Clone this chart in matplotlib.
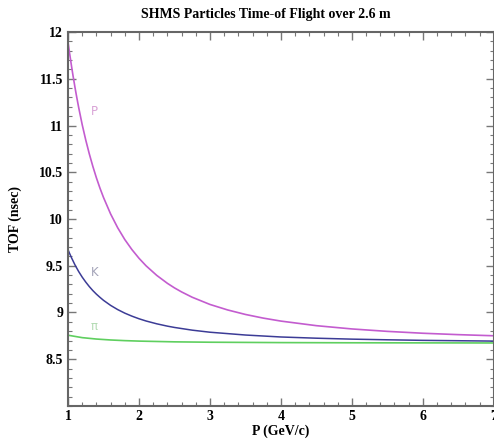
import matplotlib
matplotlib.use("Agg")
import matplotlib.pyplot as plt
from matplotlib.ticker import MultipleLocator

# Momentum samples (GeV/c) and read-off TOF values (nsec)
p_proton = [1.0, 1.02, 1.05, 1.07, 1.1, 1.12, 1.15, 1.2, 1.25, 1.3, 1.35, 1.4, 1.45, 1.5,
            1.6, 1.7, 1.8, 1.9, 2.0, 2.1, 2.25, 2.4, 2.5, 2.6, 2.75, 3.0, 3.25, 3.5,
            3.75, 4.0, 4.5, 5.0, 5.5, 6.0, 6.5, 7.0]
tof_proton = [11.893, 11.784, 11.631, 11.535, 11.399, 11.314, 11.193, 11.008, 10.844,
              10.696, 10.562, 10.440, 10.330, 10.230, 10.054, 9.906, 9.780, 9.673,
              9.580, 9.499, 9.397, 9.312, 9.263, 9.220, 9.163, 9.086, 9.027, 8.979,
              8.940, 8.908, 8.859, 8.824, 8.798, 8.778, 8.763, 8.751]

p_kaon = [1.0, 1.02, 1.05, 1.1, 1.15, 1.2, 1.25, 1.3, 1.35, 1.4, 1.45, 1.5, 1.6, 1.7,
          1.8, 1.9, 2.0, 2.1, 2.25, 2.4, 2.5, 2.75, 3.0, 3.5, 4.0, 4.5, 5.0, 5.5,
          6.0, 6.5, 7.0]
tof_kaon = [9.672, 9.635, 9.584, 9.506, 9.438, 9.378, 9.325, 9.277, 9.234, 9.196,
            9.162, 9.130, 9.076, 9.031, 8.993, 8.961, 8.933, 8.909, 8.879, 8.854,
            8.840, 8.811, 8.789, 8.759, 8.738, 8.725, 8.715, 8.708, 8.702, 8.698,
            8.694]

p_pion = [1.0, 1.2, 1.4, 1.6, 1.8, 2.0, 2.5, 3.0, 3.5, 4.0, 5.0, 6.0, 7.0]
tof_pion = [8.757, 8.731, 8.716, 8.706, 8.699, 8.694, 8.686, 8.682, 8.680, 8.678,
            8.676, 8.675, 8.674]

curve_labels = ["P", "K", "\u03c0"]

serif = ["Liberation Serif", "DejaVu Serif"]

fig = plt.figure(figsize=(4.94, 4.41), dpi=100)
ax = fig.add_axes([0.1377, 0.0794, 0.862, 0.848])

ax.plot(p_proton, tof_proton, color="#c35ccf", lw=1.2)
ax.plot(p_kaon, tof_kaon, color="#3c3c96", lw=1.1)
ax.plot(p_pion, tof_pion, color="#5fcf5f", lw=1.2)

ax.text(1.37, 11.15, curve_labels[0], color="#d9a3d6", fontsize=8.5, ha="center", va="center")
ax.text(1.37, 9.43, curve_labels[1], color="#a3a3b8", fontsize=8.5, ha="center", va="center")
ax.text(1.37, 8.85, curve_labels[2], color="#b3dbb3", fontsize=8.5, ha="center", va="center")

ax.set_xlim(1, 7)
ax.set_ylim(8, 12)
ax.xaxis.set_major_locator(MultipleLocator(1))
ax.xaxis.set_minor_locator(MultipleLocator(0.2))
ax.yaxis.set_major_locator(MultipleLocator(0.5))
ax.yaxis.set_minor_locator(MultipleLocator(0.1))
ax.set_yticks([8.5, 9, 9.5, 10, 10.5, 11, 11.5, 12])
ax.set_yticklabels(["8.5", "9", "9.5", "10", "10.5", "11", "11.5", "12"])

ax.tick_params(which="both", direction="in", top=True, right=True, color="#777777")
ax.tick_params(which="major", length=6, width=1)
ax.tick_params(which="minor", length=3, width=0.8)
ax.tick_params(axis="x", pad=3)
for lab in ax.get_xticklabels() + ax.get_yticklabels():
    lab.set_fontfamily(serif)
    lab.set_fontweight("bold")
    lab.set_fontsize(10)
for s in ax.spines.values():
    s.set_color("#666666")
    s.set_linewidth(1.5)

ax.set_xlabel("P (GeV/c)", fontfamily=serif, fontweight="bold", fontsize=10, labelpad=1)
ax.set_ylabel("TOF (nsec)", fontfamily=serif, fontweight="bold", fontsize=10, labelpad=12)
fig.text(0.538, 0.966, "SHMS Particles Time-of Flight over 2.6 m", fontfamily=serif,
         fontweight="bold", fontsize=10, ha="center", va="center")

fig.savefig("out.png", dpi=100)
